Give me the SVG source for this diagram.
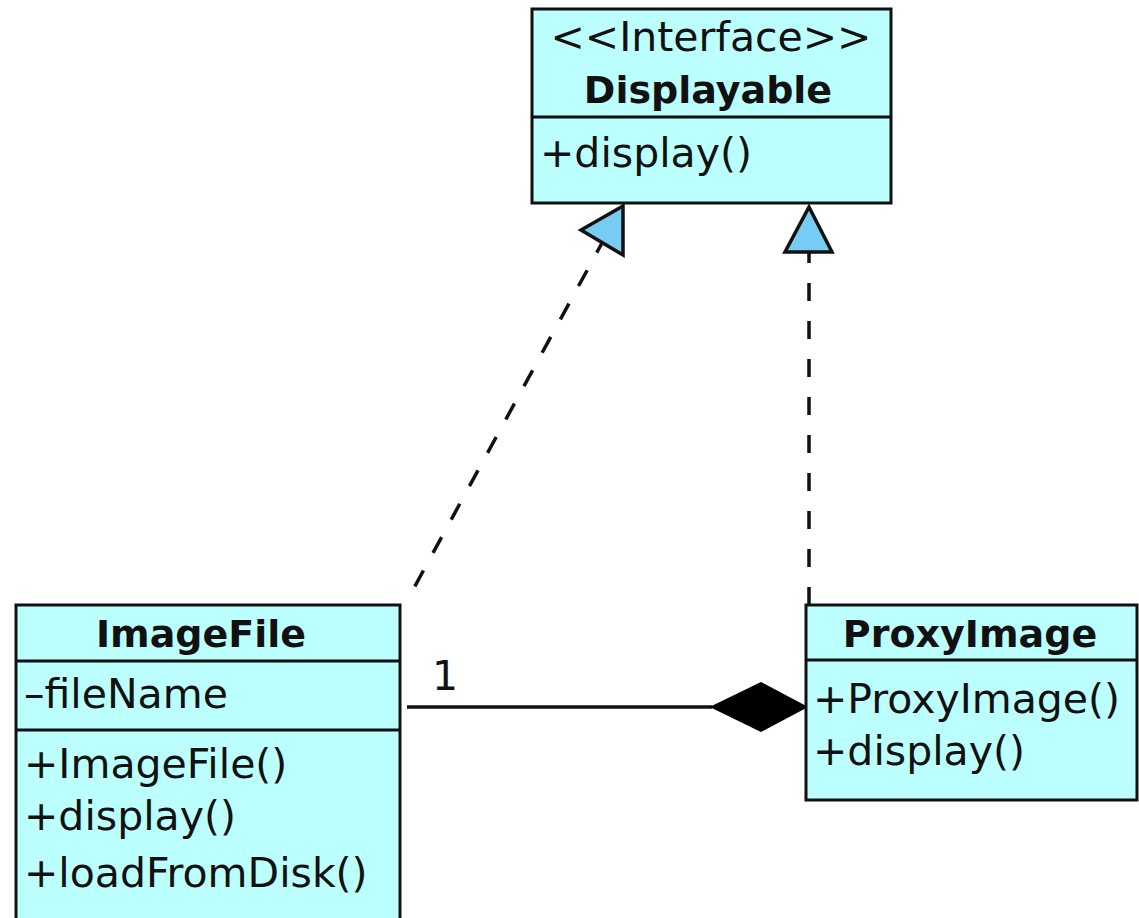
<svg xmlns="http://www.w3.org/2000/svg" width="1139" height="918" viewBox="0 0 1139 918">
  <style>
    .box { fill: #bbffff; stroke: #111; stroke-width: 3; }
    .sep { stroke: #111; stroke-width: 3; }
    .txt { font-family: "DejaVu Sans", "Liberation Sans", sans-serif; font-size: 41px; fill: #111; }
    .name { font-family: "DejaVu Sans", "Liberation Sans", sans-serif; font-size: 38px; font-weight: bold; fill: #111; text-anchor: middle; }
    .dash { fill: none; stroke: #111; stroke-width: 3.5; stroke-dasharray: 18 20; stroke-dashoffset: 7; }
    .solid { fill: none; stroke: #111; stroke-width: 3.5; }
    .realize { fill: #77ccf4; stroke: #111; stroke-width: 3.5; stroke-linejoin: miter; }
    .compose { fill: #000; stroke: #000; stroke-width: 2; }
  </style>

  <!-- connectors: two realizations and one composition -->
  <g id="connectors">
    <path class="dash" d="M602,243 L409,597"/>
    <polygon class="realize" points="623,206 623,255 581,230"/>
    <path class="dash" d="M809,252 L809,604"/>
    <polygon class="realize" points="809,207 832,252 785,252"/>
    <path class="solid" d="M407,707 L712,707"/>
    <polygon class="compose" points="712,707 761,683 806,707 761,731"/>
    <text class="txt" x="432" y="690">1</text>
  </g>

  <!-- interface Displayable -->
  <g id="displayable">
    <rect class="box" x="532" y="9" width="359" height="194"/>
    <line class="sep" x1="532" y1="117" x2="891" y2="117"/>
    <text class="txt" x="711" y="51" text-anchor="middle" font-size="40">&lt;&lt;Interface&gt;&gt;</text>
    <text class="name" x="708" y="103">Displayable</text>
    <text class="txt" x="540" y="167">+display()</text>
  </g>

  <!-- class ImageFile -->
  <g id="imagefile">
    <rect class="box" x="16" y="605" width="384" height="330"/>
    <line class="sep" x1="16" y1="661" x2="400" y2="661"/>
    <line class="sep" x1="16" y1="730" x2="400" y2="730"/>
    <text class="name" x="201" y="647">ImageFile</text>
    <text class="txt" x="24" y="708">–fileName</text>
    <text class="txt" x="24" y="778">+ImageFile()</text>
    <text class="txt" x="24" y="830">+display()</text>
    <text class="txt" x="24" y="887">+loadFromDisk()</text>
  </g>

  <!-- class ProxyImage -->
  <g id="proxyimage">
    <rect class="box" x="806" y="605" width="331" height="195"/>
    <line class="sep" x1="806" y1="660" x2="1137" y2="660"/>
    <text class="name" x="970" y="647">ProxyImage</text>
    <text class="txt" x="813" y="713">+ProxyImage()</text>
    <text class="txt" x="813" y="765">+display()</text>
  </g>
</svg>
